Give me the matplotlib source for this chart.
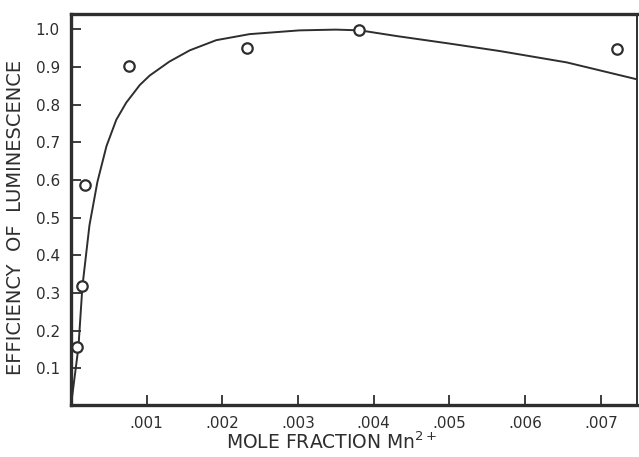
import numpy as np
import matplotlib
matplotlib.use('Agg')
import matplotlib.pyplot as plt

# measured points (open circles)
mole_frac = [0.000086, 0.000152, 0.00019, 0.00077, 0.00232, 0.0038, 0.00722]
efficiency = [0.156, 0.318, 0.586, 0.902, 0.950, 0.997, 0.947]

# smooth curve
curve_x = [0.0, 0.000099, 0.000152, 0.000245, 0.00035, 0.00047, 0.0006, 0.00073,
           0.00091, 0.00104, 0.0013, 0.00157, 0.00192, 0.00236, 0.00302, 0.0035,
           0.00382, 0.0043, 0.005, 0.00567, 0.00655, 0.00748]
curve_y = [0.0, 0.156, 0.318, 0.48, 0.595, 0.69, 0.76, 0.805,
           0.852, 0.877, 0.914, 0.944, 0.971, 0.987, 0.997, 0.999,
           0.997, 0.982, 0.962, 0.942, 0.912, 0.867]

xticks = [0.001, 0.002, 0.003, 0.004, 0.005, 0.006, 0.007]
xtick_labels = ['.001', '.002', '.003', '.004', '.005', '.006', '.007']
yticks = [0.1, 0.2, 0.3, 0.4, 0.5, 0.6, 0.7, 0.8, 0.9, 1.0]

col = '#2e2e2e'
fig = plt.figure(figsize=(6.39, 4.57), dpi=100)
ax = fig.add_axes([0.111, 0.114, 0.886, 0.855])

ax.plot(curve_x, curve_y, color=col, lw=1.4, zorder=2)
ax.plot(mole_frac, efficiency, 'o', ms=7.5, mfc='white', mec=col, mew=1.6, zorder=3)

ax.set_xlim(0, 0.00748)
ax.set_ylim(0.003, 1.04)
ax.set_xticks(xticks)
ax.set_xticklabels(xtick_labels)
ax.set_yticks(yticks)
ax.set_yticklabels(['%.1f' % v for v in yticks])
ax.tick_params(direction='in', length=7, width=1.3, colors=col, labelsize=11,
               labelcolor=col, pad=8)

for s in ['left', 'bottom', 'top']:
    ax.spines[s].set_linewidth(2.4)
    ax.spines[s].set_color(col)
ax.spines['right'].set_linewidth(1.4)
ax.spines['right'].set_color(col)

ax.set_xlabel('MOLE FRACTION Mn$^{2+}$', fontsize=13.5, color=col)
ax.xaxis.set_label_coords(0.46, -0.068)
ax.set_ylabel('EFFICIENCY  OF  LUMINESCENCE', fontsize=14, color=col)
ax.yaxis.set_label_coords(-0.082, 0.48)

fig.savefig('out.png', dpi=100)
